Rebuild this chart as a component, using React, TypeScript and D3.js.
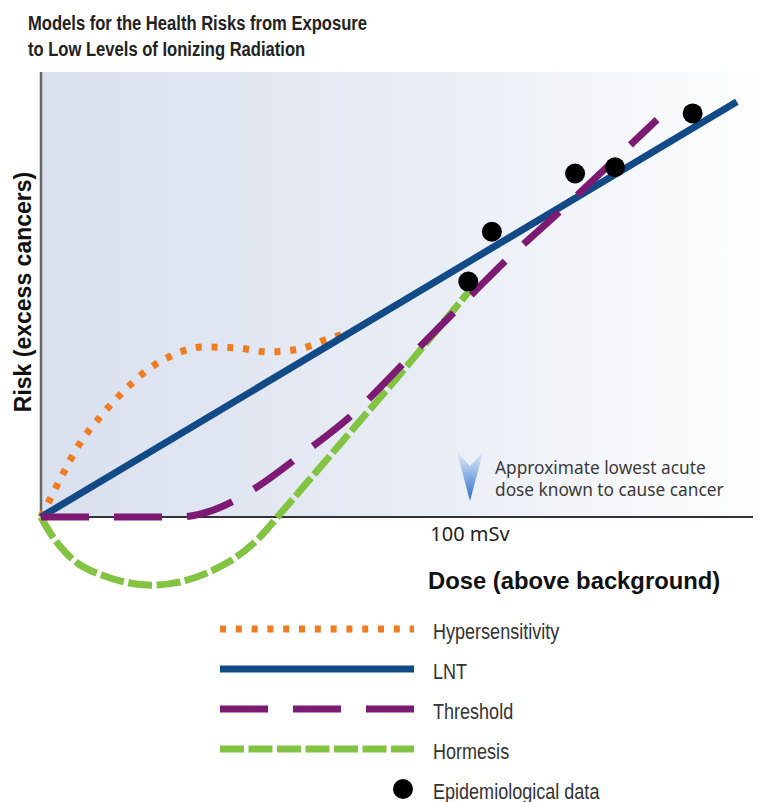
import React from 'react'
import * as d3 from 'd3'

// dose (mSv) / risk (arbitrary units)
const lntDose = [0, 162.2]
const lntRisk = [0, 93.3]

const thresholdDose = [0, 32, 40, 50, 60, 72, 86, 100.7, 108, 120.5, 132, 143.6]
const thresholdRisk = [0, 0, 1.5, 6.5, 13.5, 22.5, 36, 50.3, 57.3, 68.3, 78.7, 89.3]

const hormesisDose = [0, 3.3, 8.4, 16.1, 24.7, 34, 43.4, 50, 56, 67.4, 83.7, 99.6]
const hormesisRisk = [0, -5.2, -10.3, -13.7, -15.3, -14.2, -10.3, -5.5, 1, 13.8, 32.1, 50.5]

const hyperDose = [0, 2.1, 5.6, 9.1, 13.8, 18.9, 24.2, 30.8, 37.8, 45.7, 52.9, 60.4, 67.4, 71]
const hyperRisk = [0, 4.0, 10.6, 16.6, 22.5, 27.9, 32.6, 36.4, 38.2, 38.0, 37.1, 37.8, 40.2, 41.2]

const epiDose = [99.6, 105.1, 124.5, 133.8, 151.9]
const epiRisk = [52.9, 64.1, 77.2, 78.6, 90.7]

const tickDose = 100
const tickLabel = '100 mSv'

const titleLines = ['Models for the Health Risks from Exposure', 'to Low Levels of Ionizing Radiation']
const yTitle = 'Risk (excess cancers)'
const xTitle = 'Dose (above background)'
const noteLines = ['Approximate lowest acute', 'dose known to cause cancer']

const legendNames = ['Hypersensitivity', 'LNT', 'Threshold', 'Hormesis', 'Epidemiological data']

const W = 758
const H = 802

const sans = "'Liberation Sans', Arial, Helvetica, sans-serif"
const myriad = "'Noto Sans', 'Open Sans', sans-serif"

const styles = {
  hyper: { stroke: '#f07c22', width: 7, dash: '6 9.8' },
  lnt: { stroke: '#114a86', width: 7, dash: null as string | null },
  threshold: { stroke: '#7d1a73', width: 7, dash: '48 25' },
  hormesis: { stroke: '#82c341', width: 7, dash: '24 4.5' }
}

const zip = (xs: number[], ys: number[]): [number, number][] => xs.map((d, i) => [d, ys[i]])

export default function App() {
  const x = d3.scaleLinear().domain([0, 100]).range([41, 470])
  const y = d3.scaleLinear().domain([0, 100]).range([517, 72])

  const lineWith = (curve: d3.CurveFactory) => d3.line<[number, number]>()
    .x(d => x(d[0]))
    .y(d => y(d[1]))
    .curve(curve)

  const smooth = lineWith(d3.curveCatmullRom.alpha(0.5))
  const mono = lineWith(d3.curveMonotoneX)

  const x0 = x(0)
  const y0 = y(0)
  const xEnd = 753
  const yTop = y(100)

  const series = [
    { key: 'hormesis', data: zip(hormesisDose, hormesisRisk), gen: smooth },
    { key: 'hyper', data: zip(hyperDose, hyperRisk), gen: mono },
    { key: 'lnt', data: zip(lntDose, lntRisk), gen: mono },
    { key: 'threshold', data: zip(thresholdDose, thresholdRisk), gen: mono }
  ] as const

  const legendKeys = ['hyper', 'lnt', 'threshold', 'hormesis'] as const
  const legendY = d3.scalePoint<number>().domain([0, 1, 2, 3, 4]).range([629, 789])
  const arrowX = x(tickDose)

  return (
    <svg width={W} height={H} style={{ position: 'absolute', left: 0, top: 0, background: '#fff' }}>
      <defs>
        <linearGradient id="bg" x1="0" x2="1" y1="0" y2="0">
          <stop offset="0%" stopColor="#d9e0ee" />
          <stop offset="55%" stopColor="#e9edf5" />
          <stop offset="100%" stopColor="#fefefe" />
        </linearGradient>
        <linearGradient id="arrow" x1="0" x2="0" y1="0" y2="1">
          <stop offset="0%" stopColor="#e3ebf8" />
          <stop offset="100%" stopColor="#2a6fcd" />
        </linearGradient>
      </defs>

      {titleLines.map((t, i) => (
        <text
          key={t}
          transform={`translate(28,${30 + i * 25.5}) scale(0.79,1)`}
          fontFamily={sans}
          fontWeight="bold"
          fontSize={21}
          fill="#222"
        >
          {t}
        </text>
      ))}

      <rect x={x0} y={yTop} width={W - x0} height={y0 - yTop} fill="url(#bg)" />

      {/* annotation */}
      <path
        d={`M${arrowX - 13},${452} L${arrowX},${501} L${arrowX + 13},${452} L${arrowX},${466} Z`}
        fill="url(#arrow)"
      />
      {noteLines.map((t, i) => (
        <text key={t} x={495} y={474 + i * 22} fontFamily={myriad} fontSize={17.3} fill="#3a3a3a">
          {t}
        </text>
      ))}

      {/* axes */}
      <line x1={x0} x2={x0} y1={yTop} y2={y0} stroke="#666" strokeWidth={2.5} />
      <line x1={x0} x2={xEnd} y1={y0} y2={y0} stroke="#333" strokeWidth={2.2} />

      {series.map(s => {
        const st = styles[s.key]
        return (
          <path
            key={s.key}
            d={s.gen(s.data as [number, number][]) || ''}
            fill="none"
            stroke={st.stroke}
            strokeWidth={st.width}
            strokeDasharray={st.dash || undefined}
          />
        )
      })}

      {epiDose.map((d, i) => (
        <circle key={i} cx={x(d)} cy={y(epiRisk[i])} r={10} fill="#000" />
      ))}

      <text x={arrowX} y={541} textAnchor="middle" fontFamily={myriad} fontSize={20} fill="#222">
        {tickLabel}
      </text>

      <text x={428} y={589} fontFamily={sans} fontWeight="bold" fontSize={23.8} fill="#111">
        {xTitle}
      </text>

      <text
        transform={`translate(31,${292}) rotate(-90)`}
        textAnchor="middle"
        fontFamily={sans}
        fontWeight="bold"
        fontSize={23}
        fill="#111"
      >
        {yTitle}
      </text>

      {/* legend */}
      {legendKeys.map((k, i) => {
        const st = styles[k]
        return (
          <line
            key={k}
            x1={220}
            x2={414}
            y1={legendY(i)}
            y2={legendY(i)}
            stroke={st.stroke}
            strokeWidth={st.width}
            strokeDasharray={st.dash || undefined}
          />
        )
      })}
      <circle cx={403} cy={legendY(4)} r={10} fill="#000" />
      {legendNames.map((n, i) => (
        <text
          key={n}
          transform={`translate(433,${(legendY(i) || 0) + 10}) scale(0.82,1)`}
          fontFamily={sans}
          fontSize={22}
          fill="#333"
        >
          {n}
        </text>
      ))}
    </svg>
  )
}
